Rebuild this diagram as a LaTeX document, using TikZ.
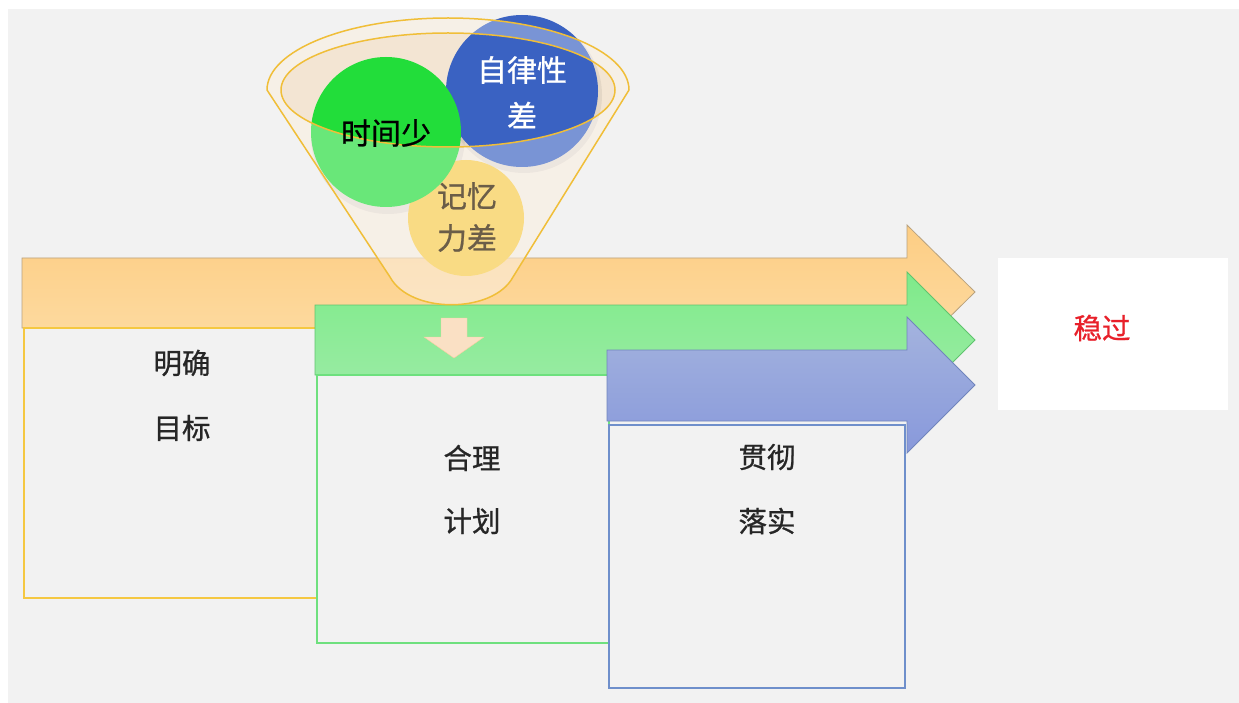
\documentclass[tikz,border=0pt]{standalone}
\usepackage{fontspec}
\newfontfamily\cjk[FakeBold=0.8]{Noto Sans CJK SC}
\definecolor{bg}{HTML}{F2F2F2}
\definecolor{orfill}{HTML}{FDD48F}
\definecolor{ordraw}{HTML}{B9A27E}
\definecolor{grfill}{HTML}{8DE899}
\definecolor{grdraw}{HTML}{5FC46E}
\definecolor{blfill}{HTML}{94A6D8}
\definecolor{bldraw}{HTML}{7085BD}
\definecolor{oline}{HTML}{F5C842}
\definecolor{gline}{HTML}{6EE07E}
\definecolor{bline}{HTML}{6F8FCB}
\definecolor{funline}{HTML}{F0BE38}
\definecolor{peach}{HTML}{F6DDBE}
\definecolor{cgreen}{HTML}{22DD3A}
\definecolor{cblue}{HTML}{3A62C2}
\definecolor{cyellow}{HTML}{F7CB4A}
\definecolor{ytext}{HTML}{6B5D48}
\definecolor{redtext}{HTML}{E8202A}
\definecolor{darrow}{HTML}{FAE0C4}
\tikzset{
  arrowO/.style={top color=orfill!92!orange, bottom color=orfill!80!white, draw=ordraw, line width=0.8pt, line join=miter},
  arrowG/.style={top color=grfill!90!green, bottom color=grfill!85!white, draw=grdraw, line width=0.8pt, line join=miter},
  arrowB/.style={top color=blfill!85!white, bottom color=blfill!92!blue, draw=bldraw, line width=0.8pt, line join=miter},
  boxO/.style={fill=bg, draw=oline, line width=1.4pt},
  boxG/.style={fill=bg, draw=gline, line width=1.4pt},
  boxB/.style={fill=bg, draw=bline, line width=1.4pt},
  lbl/.style={font=\cjk\fontsize{28.5}{32}\selectfont, text=black!85, inner sep=0pt},
  flbl/.style={font=\cjk\fontsize{30}{34}\selectfont, inner sep=0pt},
  bubble/.style={circle, inner sep=0pt, minimum size=#1},
}
\def\funnelshape{(267,90) arc[start angle=180,end angle=0,x radius=181pt,y radius=72pt] -- (513,277) .. controls (493,314) and (410,314) .. (390,277) -- cycle}
\begin{document}
\begin{tikzpicture}[x=1pt,y=-1pt]
\useasboundingbox (0,0) rectangle (1239,703);
\fill[white] (0,0) rectangle (1239,703);
\fill[bg] (8,9) rectangle (1239,703);

% orange arrow + box
\draw[arrowO] (22,258) -- (907,258) -- (907,225) -- (975,292) -- (907,359) -- (907,328) -- (22,328) -- cycle;
\draw[boxO] (24,328) rectangle (317,598);
% green arrow + box
\draw[arrowG] (315,305) -- (907,305) -- (907,272) -- (975,340) -- (907,408) -- (907,375) -- (315,375) -- cycle;
\draw[boxG] (317,375) rectangle (609,643);
% blue arrow + box
\draw[arrowB] (607,350) -- (907,350) -- (907,317) -- (975,385) -- (907,453) -- (907,421) -- (607,421) -- cycle;
\draw[boxB] (609,425) rectangle (905,688);

% result box
\node[fill=white, minimum width=230pt, minimum height=152pt, inner sep=0pt] (res) at (1113,334) {};
\node[lbl, text=redtext] (wg) at (1102,328) {稳过};

% labels
\node[lbl] (a1) at (182,363) {明确};
\node[lbl] (a2) at (182,428) {目标};
\node[lbl] (b1) at (472,458) {合理};
\node[lbl] (b2) at (472,521) {计划};
\node[lbl] (c1) at (767,457) {贯彻};
\node[lbl] (c2) at (767,521) {落实};

% funnel
\fill[peach, fill opacity=0.4] \funnelshape;
\fill[peach, fill opacity=0.3] (448,90) ellipse [x radius=167pt, y radius=57pt];
\fill[black, opacity=0.06] (524,95) circle [radius=78pt];
\fill[black, opacity=0.06] (388,137) circle [radius=77pt];
\node[bubble=152pt, fill=cblue] (cb) at (522,91) {};
\node[bubble=116pt, fill=cyellow] (cy) at (466,218) {};
\node[bubble=150pt, fill=cgreen] (cg) at (386,132) {};
\fill[white, fill opacity=0.32, even odd rule] \funnelshape (448,90) ellipse [x radius=167pt, y radius=57pt];
\draw[funline, line width=1.5pt, line join=round] \funnelshape;
\draw[funline, line width=1.5pt] (448,90) ellipse [x radius=167pt, y radius=57pt];

\node[flbl, text=black] (tg) at (386,133) {时间少};
\node[flbl, text=white] (tb1) at (522,70) {自律性};
\node[flbl, text=white] (tb2) at (522,115) {差};
\node[flbl, text=ytext] (ty1) at (467,196) {记忆};
\node[flbl, text=ytext] (ty2) at (467,238) {力差};

% down arrow
\fill[darrow, draw=darrow!80!orange] (441,318) -- (467,318) -- (467,337) -- (484,337) -- (454,358) -- (424,337) -- (441,337) -- cycle;
\end{tikzpicture}
\end{document}
